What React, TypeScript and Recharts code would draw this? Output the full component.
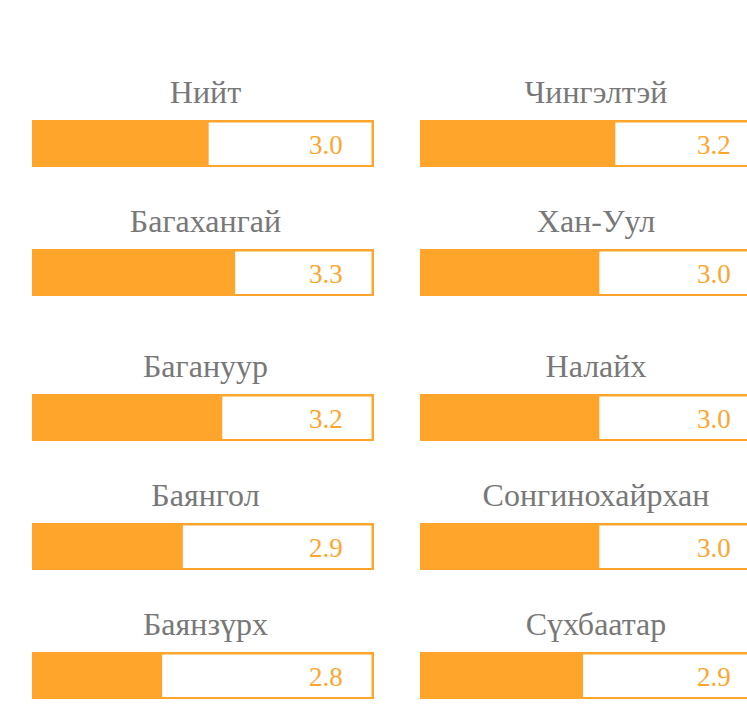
import React from 'react';
import { BarChart, Bar, XAxis, YAxis, LabelList } from 'recharts';

// District names (left column first, then right column)
const districts = [
  'Нийт',
  'Багахангай',
  'Багануур',
  'Баянгол',
  'Баянзүрх',
  'Чингэлтэй',
  'Хан-Уул',
  'Налайх',
  'Сонгинохайрхан',
  'Сүхбаатар',
];

// Displayed score labels
const scores = [3.0, 3.3, 3.2, 2.9, 2.8, 3.2, 3.0, 3.0, 3.0, 2.9];

// Filled share of each bar (percent of full bar)
const filledShare = [51.3, 59.1, 55.3, 43.7, 37.6, 56.8, 52.1, 52.1, 52.1, 47.3];

const ORANGE = '#FFA52C';
const TITLE_GRAY = '#787878';
const FONT = '"Liberation Serif", "Times New Roman", Times, serif';

const ROW_TOPS = [120, 249, 394, 523, 652];
const COL_LEFTS = [32, 420];
const TITLE_SHIFT = [2.5, 5];
const BAR_W = 342;
const BAR_H = 47;
const SW = 2.5;

function Panel({ index }: { index: number }) {
  const col = Math.floor(index / 5);
  const row = index % 5;
  const left = COL_LEFTS[col];
  const top = ROW_TOPS[row];
  const filled = filledShare[index];
  const data = [
    {
      name: districts[index],
      filled,
      rest: 100 - filled,
      score: scores[index],
    },
  ];
  return (
    <>
      <div
        style={{
          position: 'absolute',
          left: left + TITLE_SHIFT[col],
          top: top - 17.5 - 26.8,
          width: BAR_W,
          textAlign: 'center',
          fontFamily: FONT,
          fontSize: 32,
          lineHeight: '32px',
          color: TITLE_GRAY,
          whiteSpace: 'nowrap',
        }}
      >
        {districts[index]}
      </div>
      <div style={{ position: 'absolute', left, top }}>
        <BarChart
          width={BAR_W}
          height={BAR_H}
          layout="vertical"
          data={data}
          margin={{ top: SW / 2, right: SW / 2, bottom: SW / 2, left: SW / 2 }}
          barCategoryGap={0}
        >
          <XAxis type="number" domain={[0, 100]} hide />
          <YAxis type="category" dataKey="name" hide />
          <Bar
            dataKey="filled"
            stackId="a"
            fill={ORANGE}
            stroke={ORANGE}
            strokeWidth={SW}
            isAnimationActive={false}
          />
          <Bar
            dataKey="rest"
            stackId="a"
            fill="#ffffff"
            stroke={ORANGE}
            strokeWidth={SW}
            isAnimationActive={false}
          >
            <LabelList
              dataKey="score"
              position="insideRight"
              offset={30}
              formatter={(v: any) => Number(v).toFixed(1)}
              fill={ORANGE}
              stroke="none"
              fontSize={27}
              fontFamily={FONT}
              dy={1}
            />
          </Bar>
        </BarChart>
      </div>
    </>
  );
}

export default function App() {
  return (
    <div
      style={{
        position: 'absolute',
        left: 0,
        top: 0,
        width: 747,
        height: 708,
        overflow: 'hidden',
        background: '#ffffff',
      }}
    >
      {districts.map((_, i) => (
        <Panel key={i} index={i} />
      ))}
    </div>
  );
}
